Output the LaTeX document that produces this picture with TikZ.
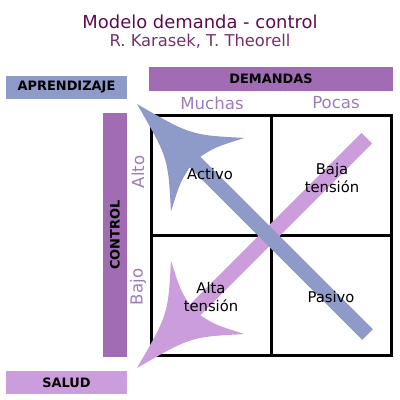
\documentclass[tikz,border=0pt]{standalone}
\usepackage{fontspec}
\setmainfont{DejaVu Sans}
\usepackage{xcolor}
\usetikzlibrary{positioning}
\definecolor{Karasek_Plum}{RGB}{94,10,82}
\definecolor{Karasek_Purple}{RGB}{161,108,179}
\definecolor{Karasek_Lilac}{RGB}{157,123,184}
\definecolor{Karasek_Blue}{RGB}{142,154,200}
\definecolor{Karasek_Pink}{RGB}{204,157,220}

\begin{document}
\begin{tikzpicture}[
    x=0.25mm, y=-0.25mm,
    bar/.style={rectangle, inner sep=0pt, font=\fontsize{9.2}{11}\selectfont\bfseries},
    cell/.style={align=center, inner sep=0pt, font=\fontsize{10.5}{12.8}\selectfont},
    level/.style={inner sep=0pt, text=Karasek_Lilac, font=\fontsize{11.8}{14}\selectfont},
    quadrant/.style={line width=2.3pt}
]
\useasboundingbox (0,0) rectangle (400,400);

\node[text=Karasek_Plum, font=\fontsize{12.75}{15}\selectfont] (title) at (200,22) {Modelo demanda - control};
\node[text=Karasek_Plum!85, font=\fontsize{11.6}{14}\selectfont] (authors) at (200,41) {R. Karasek, T. Theorell};

\node[bar, fill=Karasek_Blue, minimum width=30.25mm, minimum height=5.75mm] (aprendizaje) at (66.5,87.5) {APRENDIZAJE};
\node[bar, fill=Karasek_Purple, minimum width=61mm, minimum height=6mm] (demandas) at (271,79) {DEMANDAS};
\node[bar, fill=Karasek_Purple, rotate=90, minimum width=61mm, minimum height=6mm] (control) at (115,235) {CONTROL};
\node[bar, fill=Karasek_Pink, minimum width=30.25mm, minimum height=5.75mm] (salud) at (66.5,382.5) {SALUD};

% quadrants
\draw[quadrant] (151.5,115.5) rectangle (391.5,355.5);
\draw[quadrant] (271.5,115.5) -- (271.5,355.5);
\draw[quadrant] (151.5,235.5) -- (391.5,235.5);

% the two big arrows
\coordinate (saludTip) at (137,368);
\coordinate (aprendizajeTip) at (137,104);
\begin{scope}[shift={(saludTip)}, rotate=45]
  \fill[Karasek_Pink] (0,0) .. controls (60,16) .. (100,52) .. controls (86,25) .. (82,7.5)
    -- (325,7.5) -- (325,-7.5) -- (82,-7.5) .. controls (86,-25) .. (100,-52)
    .. controls (60,-16) .. (0,0) -- cycle;
\end{scope}
\begin{scope}[shift={(aprendizajeTip)}, rotate=-45]
  \fill[Karasek_Blue] (0,0) .. controls (60,16) .. (100,52) .. controls (86,25) .. (82,7.5)
    -- (326,7.5) -- (326,-7.5) -- (82,-7.5) .. controls (86,-25) .. (100,-52)
    .. controls (60,-16) .. (0,0) -- cycle;
\end{scope}

\node[level] (muchas) at (212,103) {Muchas};
\node[level] (pocas) at (336,103) {Pocas};
\node[level, rotate=90] (alto) at (138,172) {Alto};
\node[level, rotate=90] (bajo) at (138,287) {Bajo};

\node[cell] (activo) at (210,174) {Activo};
\node[cell] (bajaTension) at (332,178) {Baja\\tensión};
\node[cell] (altaTension) at (211,297) {Alta\\tensión};
\node[cell] (pasivo) at (331,297) {Pasivo};

\end{tikzpicture}
\end{document}
